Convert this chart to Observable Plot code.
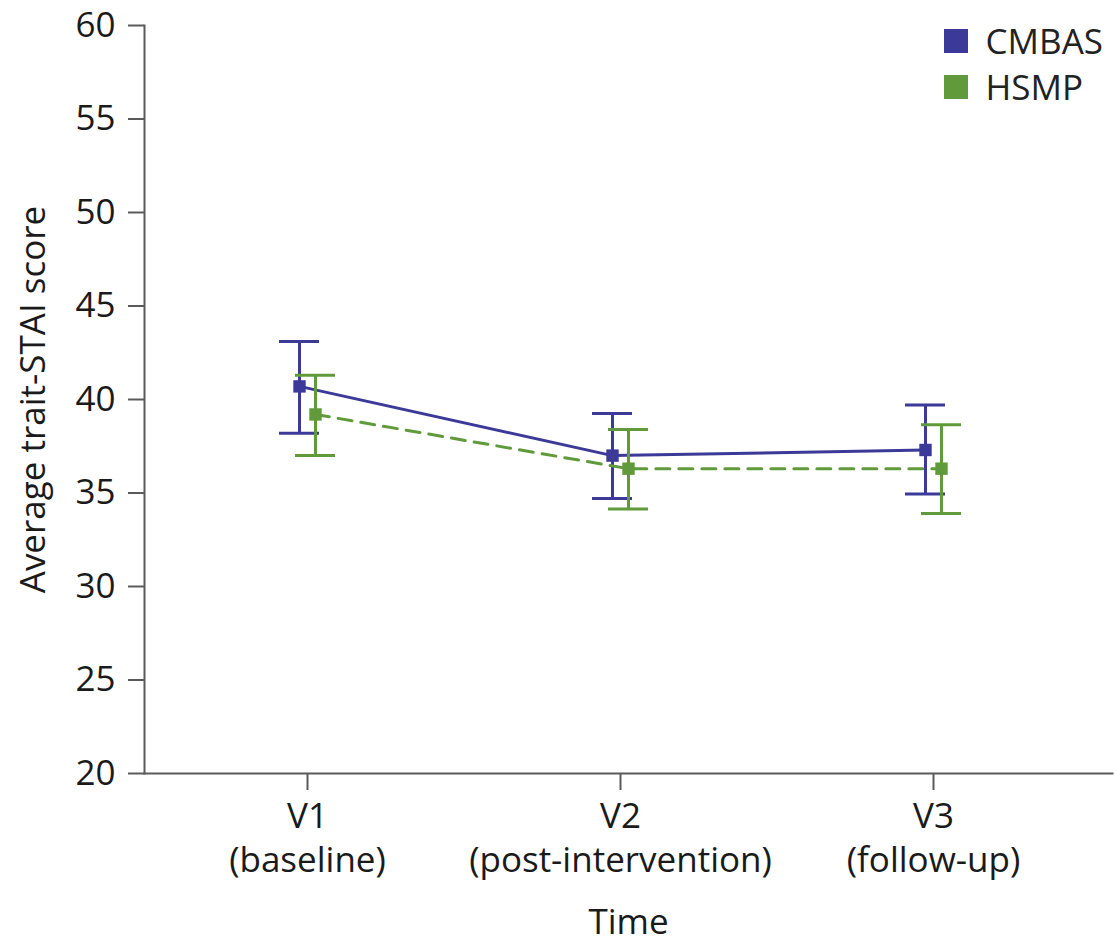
<!DOCTYPE html>
<html>
<head>
<meta charset="utf-8">
<script src="https://cdn.jsdelivr.net/npm/d3@7"></script>
<script src="https://cdn.jsdelivr.net/npm/@observablehq/plot@0.6"></script>
<style>
  html, body { margin: 0; padding: 0; background: #fff; }
  #wrap { position: relative; width: 1116px; height: 943px; }
  #legend { position: absolute; left: 944px; top: 18px; }
  #legend .lg-swatch { font-family: 'Open Sans', sans-serif; font-size: 35px; color: #222; line-height: 45px; margin: 0 !important; }
</style>
</head>
<body>
<div id="wrap"><div id="legend"></div></div>
<script>
// ---- data ----
const groups = ["CMBAS", "HSMP"];
const groupColors = ["#3b3a98", "#619a3a"];
const visits = ["V1", "V2", "V3"];
const visitLabels = ["V1\n(baseline)", "V2\n(post-intervention)", "V3\n(follow-up)"];
const cmbasMean = [40.7, 37.0, 37.3];
const cmbasLow  = [38.2, 34.7, 34.95];
const cmbasHigh = [43.1, 39.25, 39.7];
const hsmpMean  = [39.2, 36.3, 36.3];
const hsmpLow   = [37.0, 34.15, 33.9];
const hsmpHigh  = [41.3, 38.4, 38.65];
const yTicks = [20, 25, 30, 35, 40, 45, 50, 55, 60];

// ---- build table ----
const rows = [];
visits.forEach((v, i) => {
  rows.push({visit: v, group: "CMBAS", mean: cmbasMean[i], low: cmbasLow[i], high: cmbasHigh[i]});
  rows.push({visit: v, group: "HSMP", mean: hsmpMean[i], low: hsmpLow[i], high: hsmpHigh[i]});
});
const cm = rows.filter(d => d.group === "CMBAS");
const hs = rows.filter(d => d.group === "HSMP");
const [cBlue, cGreen] = groupColors;
const OFF = 8;

const seriesMarks = (data, color, dx, dash) => [
  Plot.line(data, {x: "visit", y: "mean", stroke: color, strokeWidth: 3, strokeDasharray: dash, dx}),
  Plot.ruleX(data, {x: "visit", y1: "low", y2: "high", stroke: color, strokeWidth: 3, dx}),
  Plot.tickY(data, {x: "visit", y: "high", stroke: color, strokeWidth: 3, dx}),
  Plot.tickY(data, {x: "visit", y: "low", stroke: color, strokeWidth: 3, dx}),
  Plot.dot(data, {x: "visit", y: "mean", symbol: "square", r: 7, fill: color, stroke: null, dx})
];

const chart = Plot.plot({
  width: 1116,
  height: 943,
  marginLeft: 144,
  marginRight: 4,
  marginTop: 25,
  marginBottom: 170,
  style: {fontFamily: "'Open Sans', sans-serif", fontSize: "35px", color: "#1a1a1a", background: "transparent"},
  x: {type: "band", domain: visits, paddingInner: 0.8724, paddingOuter: 0.48, align: 0.472},
  y: {domain: [20, 60]},
  marks: [
    Plot.frame({anchor: "left", stroke: "#5a5a5a", strokeWidth: 2}),
    Plot.frame({anchor: "bottom", stroke: "#5a5a5a", strokeWidth: 2}),
    Plot.axisY({ticks: yTicks, tickSize: 16, tickPadding: 13, stroke: "#5a5a5a", strokeWidth: 2,
      label: "Average trait-STAI score", labelAnchor: "center", labelOffset: 124, labelArrow: "none"}),
    Plot.axisX({tickSize: 17, tickPadding: 6, stroke: "#5a5a5a", strokeWidth: 2, lineHeight: 1.26,
      tickFormat: d => visitLabels[visits.indexOf(d)],
      label: "Time", labelAnchor: "center", labelOffset: 160, labelArrow: "none"}),
    ...seriesMarks(cm, cBlue, -OFF, null),
    ...seriesMarks(hs, cGreen, OFF, "14,9")
  ]
});
document.getElementById("wrap").prepend(chart);

const legend = Plot.legend({
  color: {type: "ordinal", domain: groups, range: groupColors},
  legend: "swatches",
  swatchSize: 24,
  columns: 1,
  className: "lg"
});
document.getElementById("legend").appendChild(legend);
</script>
</body>
</html>
